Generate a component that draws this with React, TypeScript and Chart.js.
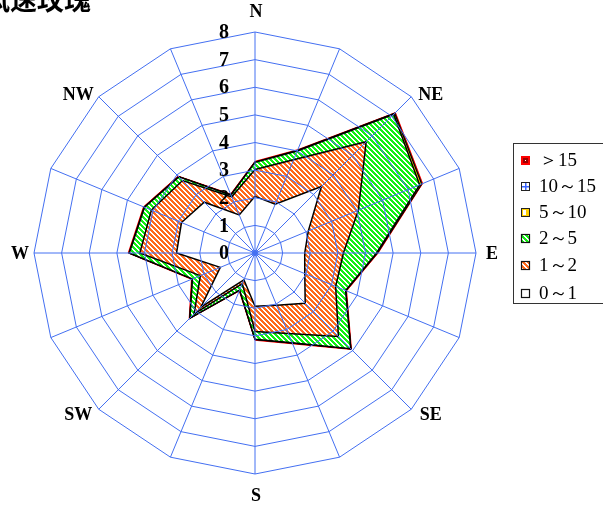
import React, { useEffect, useRef } from 'react';
import { Chart, registerables } from 'chart.js';
Chart.register(...registerables);

// ---- data ----
const directions = ['N', 'NNE', 'NE', 'ENE', 'E', 'ESE', 'SE', 'SSE', 'S', 'SSW', 'SW', 'WSW', 'W', 'WNW', 'NW', 'NNW'];
const axisLabels = ['N', '', 'NE', '', 'E', '', 'SE', '', 'S', '', 'SW', '', 'W', '', 'NW', ''];
const tickLabels = ['0', '1', '2', '3', '4', '5', '6', '7', '8'];
const classNames = ['0～1', '1～2', '2～5', '5～10', '10～15', '＞15'];
const titleText = '风速玫瑰';

const freq0to1 = [2.05, 1.91, 3.40, 2.09, 1.80, 1.95, 2.57, 2.05, 1.93, 1.05, 2.77, 1.36, 2.84, 2.88, 2.60, 1.49];
const freq1to2 = [0.97, 1.74, 2.29, 1.96, 1.40, 1.21, 1.70, 1.10, 0.91, 0.15, 0.35, 0.78, 1.33, 1.18, 1.11, 0.71];
const freq2to5 = [0.26, 0.35, 1.41, 2.40, 1.20, 0.39, 0.63, 0.37, 0.28, 0.25, 0.21, 0.31, 0.38, 0.27, 0.19, 0.07];
const freq5to10 = [0.01, 0.02, 0.05, 0.08, 0.03, 0.01, 0.01, 0.01, 0.01, 0.01, 0.01, 0.01, 0.01, 0.01, 0.01, 0.01];
const freq10to15 = [0, 0, 0.01, 0.01, 0, 0, 0, 0, 0, 0, 0, 0, 0, 0, 0, 0];
const freqOver15 = [0.03, 0.03, 0.03, 0.03, 0.03, 0.03, 0.03, 0.03, 0.03, 0.03, 0.03, 0.03, 0.03, 0.03, 0.03, 0.03];

const seriesList = [freq0to1, freq1to2, freq2to5, freq5to10, freq10to15, freqOver15];

function cumulative(): number[][] {
  const out: number[][] = [];
  let run = directions.map(() => 0);
  seriesList.forEach((s) => {
    run = run.map((v, i) => v + s[i]);
    out.push(run.slice());
  });
  return out;
}

const ORANGE = '#ff6a1a';
const GREEN = '#12f012';
const YELLOW = '#ffd000';
const BLUE = '#3a66ff';
const GRID = '#4470f2';

function stripe(color: string, n = 5, k = 3): CanvasPattern {
  const c = document.createElement('canvas');
  c.width = n; c.height = n;
  const g = c.getContext('2d')!;
  g.fillStyle = '#ffffff';
  g.fillRect(0, 0, n, n);
  g.fillStyle = color;
  for (let y = 0; y < n; y++) {
    for (let x = 0; x < n; x++) {
      if (((x - y) % n + n) % n < k) g.fillRect(x, y, 1, 1);
    }
  }
  return g.createPattern(c, 'repeat')!;
}

function gridPattern(color: string, size = 4): CanvasPattern {
  const c = document.createElement('canvas');
  c.width = size; c.height = size;
  const g = c.getContext('2d')!;
  g.fillStyle = '#ffffff';
  g.fillRect(0, 0, size, size);
  g.fillStyle = color;
  g.fillRect(0, 0, size, 1);
  g.fillRect(0, 0, 1, size);
  return g.createPattern(c, 'repeat')!;
}

export default function App() {
  const ref = useRef<HTMLCanvasElement | null>(null);

  useEffect(() => {
    const canvas = ref.current!;
    const cum = cumulative();
    const orange = stripe(ORANGE);
    const green = stripe(GREEN);
    const blue = gridPattern(BLUE);

    const fills: any[] = ['#ffffff', orange, green, YELLOW, blue, '#9a0000'];
    const borders = ['#000000', '#000000', '#000000', '#000000', '#000000', '#ff0000'];
    const widths = [1.5, 1.5, 1.5, 1.2, 0.5, 1];

    const datasets = cum.map((vals, i) => ({
      label: classNames[i],
      data: vals,
      backgroundColor: fills[i],
      borderColor: borders[i],
      borderWidth: widths[i],
      pointRadius: 0,
      pointHoverRadius: 0,
      fill: i === 0 ? 'origin' : '-1',
      tension: 0,
    }));

    const cleanBase = {
      id: 'cleanBase',
      beforeDatasetsDraw(chart: any) {
        const ctx: CanvasRenderingContext2D = chart.ctx;
        ctx.save();
        ctx.fillStyle = '#ffffff';
        ctx.fillRect(0, 0, chart.width, chart.height);
        ctx.restore();
      },
    };

    const decor = {
      id: 'decor',
      afterDraw(chart: any) {
        const ctx: CanvasRenderingContext2D = chart.ctx;
        const r = chart.scales.r;
        ctx.save();
        // center dot
        ctx.fillStyle = GRID;
        ctx.beginPath();
        ctx.arc(r.xCenter, r.yCenter, 3, 0, Math.PI * 2);
        ctx.fill();

        // radial tick labels
        ctx.fillStyle = '#000';
        ctx.font = 'bold 20px "Liberation Serif"';
        ctx.textAlign = 'right';
        ctx.textBaseline = 'middle';
        tickLabels.forEach((t) => {
          const d = r.getDistanceFromCenterForValue(Number(t));
          ctx.fillText(t, r.xCenter - 26, r.yCenter - d + 1);
        });

        // direction labels
        ctx.font = 'bold 18px "Liberation Serif"';
        ctx.textAlign = 'center';
        axisLabels.forEach((lab, i) => {
          if (!lab) return;
          let p;
          if (i % 4 === 0) {
            const dist = i === 0 || i === 8 ? 242 : 236;
            p = r.getPointPosition(i, dist);
            ctx.fillText(lab, p.x + 1, p.y + 1);
          } else {
            p = r.getPointPosition(i, 226);
            const sx = p.x > r.xCenter ? 16 : -17;
            ctx.fillText(lab, p.x + sx, p.y + 2.5);
          }
        });

        // title
        ctx.font = 'bold 27px "Noto Sans CJK SC"';
        ctx.textAlign = 'left';
        ctx.textBaseline = 'alphabetic';
        ctx.fillText(titleText, -17, 10);

        // legend
        const lx = 513.5, ly = 143.5;
        ctx.strokeStyle = '#333';
        ctx.lineWidth = 1;
        ctx.strokeRect(lx, ly, 100, 160);
        const rowsY = [160, 186.5, 212, 238.5, 265, 293];
        const order = [5, 4, 3, 2, 1, 0];
        ctx.font = '19px "Liberation Serif"';
        ctx.textBaseline = 'middle';
        order.forEach((di, row) => {
          const cy = rowsY[row];
          const x0 = 521, y0 = Math.round(cy - 4.5), s = 9;
          if (di === 5) {
            ctx.fillStyle = '#ff0000'; ctx.fillRect(x0, y0, s, s);
            ctx.fillStyle = '#990000'; ctx.fillRect(x0 + 2, y0 + 2, s - 4, s - 4);
            ctx.fillStyle = '#ffffff'; ctx.fillRect(x0 + 4, y0 + 4, 1, 1);
          } else if (di === 4) {
            ctx.fillStyle = '#ffffff'; ctx.fillRect(x0, y0, s, s);
            ctx.fillStyle = BLUE;
            ctx.fillRect(x0 + 4, y0, 1.5, s);
            ctx.fillRect(x0, y0 + 4, s, 1.5);
            ctx.strokeStyle = '#222'; ctx.strokeRect(x0 + 0.5, y0 + 0.5, s - 1, s - 1);
          } else if (di === 3) {
            ctx.fillStyle = YELLOW; ctx.fillRect(x0, y0, s, s);
            ctx.fillStyle = '#ffffff'; ctx.fillRect(x0 + 2, y0 + 2, 3, s - 4);
            ctx.strokeStyle = '#222'; ctx.strokeRect(x0 + 0.5, y0 + 0.5, s - 1, s - 1);
          } else {
            ctx.fillStyle = fills[di];
            ctx.fillRect(x0, y0, s, s);
            ctx.strokeStyle = '#111'; ctx.lineWidth = 1.2;
            ctx.strokeRect(x0 + 0.5, y0 + 0.5, s - 1, s - 1);
            ctx.lineWidth = 1;
          }
          ctx.fillStyle = '#000';
          ctx.fillText(classNames[di], 539, cy + 1);
        });
        ctx.restore();
      },
    };

    const chart = new Chart(canvas, {
      type: 'radar',
      data: { labels: directions, datasets: datasets as any },
      options: {
        responsive: false,
        animation: false,
        devicePixelRatio: 1,
        events: [],
        layout: { padding: { left: 34, right: 127, top: 32, bottom: 36 } },
        plugins: { legend: { display: false }, tooltip: { enabled: false }, title: { display: false } },
        elements: { line: { tension: 0 } },
        scales: {
          r: {
            min: 0,
            max: 8,
            ticks: { display: false, stepSize: 1 },
            border: { display: false },
            grid: { color: GRID, lineWidth: 1, circular: false, z: 1 },
            angleLines: { color: GRID, lineWidth: 1 },
            pointLabels: { display: false },
          },
        },
      } as any,
      plugins: [cleanBase, decor],
    });
    return () => chart.destroy();
  }, []);

  return (
    <div style={{ position: 'absolute', left: 0, top: 0, width: 603, height: 510, background: '#fff' }}>
      <canvas ref={ref} width={603} height={510} style={{ width: 603, height: 510, display: 'block' }} />
    </div>
  );
}
